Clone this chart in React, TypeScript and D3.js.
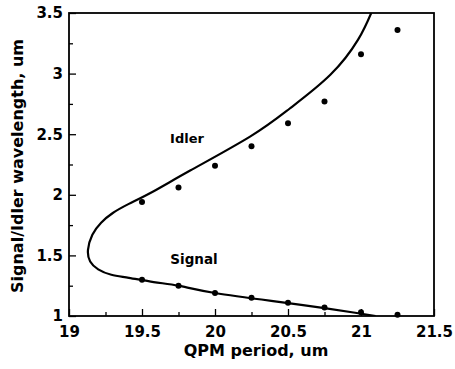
import React, { useEffect, useRef } from "react";
import * as d3 from "d3";

// measured points
const periods = [19.5, 19.75, 20, 20.25, 20.5, 20.75, 21, 21.25];
const idlerMeasured = [1.94, 2.06, 2.24, 2.4, 2.59, 2.77, 3.16, 3.36];
const signalMeasured = [1.3, 1.25, 1.19, 1.15, 1.11, 1.07, 1.03, 1.01];

// theory curve (idler branch top -> signal branch bottom)
const curvePeriod = [21.07, 20.98, 20.79, 20.51, 20.24, 19.83, 19.58, 19.41, 19.3, 19.22, 19.16, 19.13, 19.145, 19.2, 19.29, 19.41, 19.58, 19.75, 20.0, 20.45, 20.75, 20.96, 21.1];
const curveWavelength = [3.5, 3.28, 2.99, 2.71, 2.48, 2.2, 2.03, 1.925, 1.85, 1.77, 1.67, 1.545, 1.45, 1.385, 1.34, 1.315, 1.28, 1.25, 1.19, 1.115, 1.065, 1.027, 1.0];

const xTicks = [19, 19.5, 20, 20.5, 21, 21.5];
const xMinor = [19.25, 19.75, 20.25, 20.75, 21.25];
const yTicks = [1, 1.5, 2, 2.5, 3, 3.5];
const yMinor = [1.25, 1.75, 2.25, 2.75, 3.25];

const App = () => {
  const ref = useRef<SVGSVGElement>(null);

  useEffect(() => {
    const width = 455;
    const height = 369;
    const margin = { top: 13, right: 21, bottom: 53, left: 69 };
    const font = "'DejaVu Sans', sans-serif";

    const svg = d3.select(ref.current).attr("width", width).attr("height", height);
    svg.selectAll("*").remove();

    svg.append("rect").attr("width", width).attr("height", height).attr("fill", "white");

    const x = d3.scaleLinear().domain([19, 21.5]).range([margin.left, width - margin.right]);
    const y = d3.scaleLinear().domain([1, 3.5]).range([height - margin.bottom, margin.top]);

    // clip so the curve stops at the frame
    svg.append("clipPath").attr("id", "plot-clip")
      .append("rect")
      .attr("x", margin.left).attr("y", margin.top)
      .attr("width", width - margin.left - margin.right)
      .attr("height", height - margin.top - margin.bottom);

    // axes (ticks point inward)
    const xAxis = svg.append("g")
      .attr("transform", `translate(0,${height - margin.bottom})`)
      .call(d3.axisBottom(x).tickValues(xTicks).tickSize(-7).tickSizeOuter(0).tickPadding(10).tickFormat(d3.format("")));
    svg.append("g")
      .attr("transform", `translate(0,${height - margin.bottom})`)
      .call(d3.axisBottom(x).tickValues(xMinor).tickSize(-4).tickSizeOuter(0).tickFormat(() => ""));

    const yAxis = svg.append("g")
      .attr("transform", `translate(${margin.left},0)`)
      .call(d3.axisLeft(y).tickValues(yTicks).tickSize(-7).tickSizeOuter(0).tickPadding(6).tickFormat(d3.format("")));
    svg.append("g")
      .attr("transform", `translate(${margin.left},0)`)
      .call(d3.axisLeft(y).tickValues(yMinor).tickSize(-4).tickSizeOuter(0).tickFormat(() => ""));

    svg.selectAll(".domain").remove();
    svg.selectAll(".tick line").attr("stroke", "#000").attr("stroke-width", 1.3);
    [xAxis, yAxis].forEach(g => g.selectAll("text")
      .attr("fill", "#000")
      .style("font-family", font)
      .style("font-weight", "bold")
      .style("font-size", "15px"));

    // frame
    svg.append("rect")
      .attr("x", margin.left).attr("y", margin.top)
      .attr("width", width - margin.left - margin.right)
      .attr("height", height - margin.top - margin.bottom)
      .attr("fill", "none").attr("stroke", "#000").attr("stroke-width", 1.8);

    // theory curve
    const line = d3.line<number>()
      .x(i => x(curvePeriod[i]))
      .y(i => y(curveWavelength[i]))
      .curve(d3.curveNatural);
    svg.append("path")
      .attr("clip-path", "url(#plot-clip)")
      .attr("d", line(d3.range(curvePeriod.length)))
      .attr("fill", "none").attr("stroke", "#000").attr("stroke-width", 2.2);

    // measured dots
    [idlerMeasured, signalMeasured].forEach(series => {
      svg.append("g").selectAll("circle")
        .data(series)
        .enter()
        .append("circle")
        .attr("cx", (d, i) => x(periods[i]))
        .attr("cy", d => y(d))
        .attr("r", 3)
        .attr("fill", "#000");
    });

    // branch labels
    svg.append("text").attr("x", 187).attr("y", 143).attr("text-anchor", "middle")
      .style("font-family", font).style("font-weight", "bold").style("font-size", "13px")
      .text("Idler");
    svg.append("text").attr("x", 194).attr("y", 264).attr("text-anchor", "middle")
      .style("font-family", font).style("font-weight", "bold").style("font-size", "13.5px")
      .text("Signal");

    // axis titles
    svg.append("text")
      .attr("x", 256).attr("y", 356)
      .attr("text-anchor", "middle")
      .style("font-family", font).style("font-weight", "bold").style("font-size", "16px")
      .text("QPM period, um");
    svg.append("text")
      .attr("transform", `translate(23,166) rotate(-90)`)
      .attr("text-anchor", "middle")
      .style("font-family", font).style("font-weight", "bold").style("font-size", "16px")
      .text("Signal/Idler wavelength, um");
  }, []);

  return (
    <div style={{ position: "absolute", left: 0, top: 0 }}>
      <svg ref={ref} style={{ display: "block" }}></svg>
    </div>
  );
};

export default App;
